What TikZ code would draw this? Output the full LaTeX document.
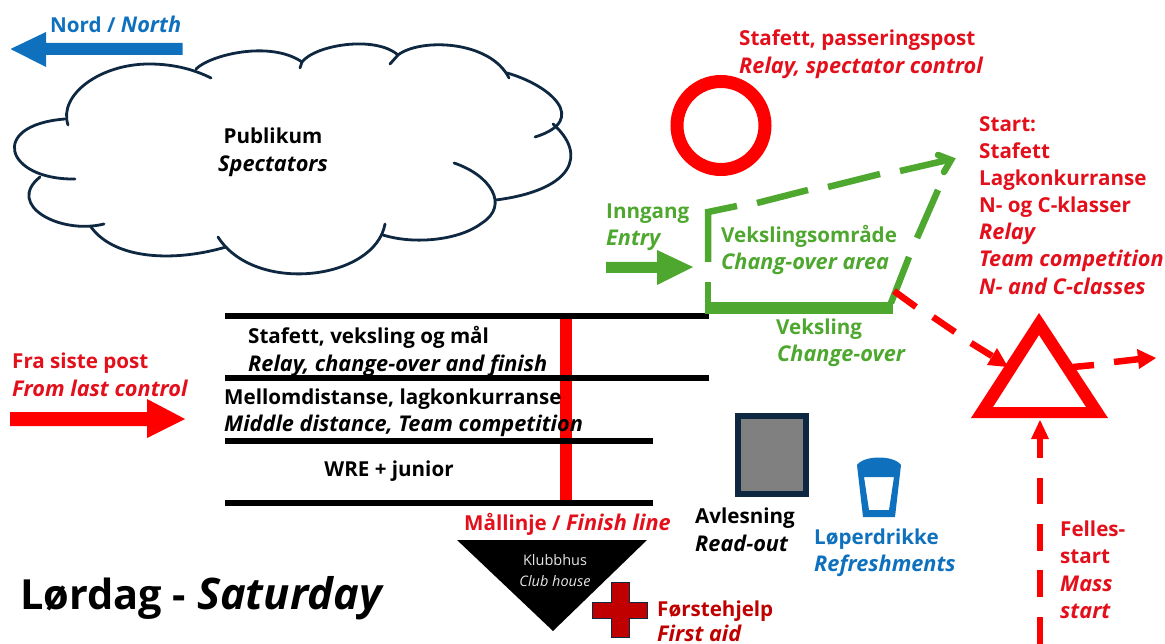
\documentclass[tikz,border=0pt]{standalone}
\usepackage{fontspec}
\setmainfont{Open Sans}
\usetikzlibrary{arrows.meta}
\definecolor{cRed}{HTML}{FF0000}
\definecolor{tRed}{HTML}{E3101C}
\definecolor{cGreen}{HTML}{4EA72E}
\definecolor{cBlue}{HTML}{0F71BE}
\definecolor{cNavy}{HTML}{0E2841}
\definecolor{cAid}{HTML}{C00000}
\newcommand{\itx}[1]{{\fontsize{21.7}{22}\selectfont\itshape #1}}
\tikzset{
 x=1pt,y=-1pt,
 lbl/.style={anchor=base west,inner sep=0pt,font=\fontsize{20.6}{22}\selectfont\bfseries},
 lblc/.style={lbl,anchor=base},
 cloudarc/.style={draw=cNavy,line width=2.8pt,line cap=round},
 track/.style={draw=black,line width=6.5pt},
 gdash/.style={draw=cGreen,line width=6.5pt},
 rdash/.style={draw=cRed,line width=6.5pt},
}
\begin{document}
\begin{tikzpicture}
\useasboundingbox (0,0) rectangle (1165,644);
% cloud
\draw[cloudarc] (68,125) .. controls (58,95) and (100,64) .. (149,64) .. controls (175,64) and (195,70) .. (211,78);
\draw[cloudarc] (196,69) .. controls (210,55) and (270,40) .. (302,62) -- (300,68);
\draw[cloudarc] (302,62) .. controls (315,45) and (375,35) .. (398,55);
\draw[cloudarc] (390,64) -- (398,55) .. controls (420,38) and (490,40) .. (509,78);
\draw[cloudarc] (507,73) .. controls (550,85) and (590,120) .. (535,137);
\draw[cloudarc] (553,124) .. controls (588,155) and (573,190) .. (496,200);
\draw[cloudarc] (454,163) .. controls (490,175) and (510,205) .. (482,223) .. controls (460,240) and (415,245) .. (383,235);
\draw[cloudarc] (385,224) .. controls (375,280) and (255,295) .. (218,237);
\draw[cloudarc] (226,247) .. controls (175,262) and (115,260) .. (91,227);
\draw[cloudarc] (104,224) .. controls (60,235) and (5,205) .. (40,177);
\draw[cloudarc] (75,179) .. controls (5,180) and (-12,125) .. (65,119);
% north arrow
\fill[cBlue] (182.5,43)--(46,43)--(46,32)--(10.5,49)--(46,67)--(46,55)--(182.5,55)--cycle;
% entry arrow
\fill[cGreen] (606,262)--(657,262)--(657,250)--(693,267)--(657,285)--(657,273)--(606,273)--cycle;
% last control arrow
\fill[cRed] (10,412)--(147,412)--(147,399)--(185,419)--(147,438)--(147,426)--(10,426)--cycle;
% tracks
\draw[cRed,line width=12pt] (566,316)--(566,503);
\coordinate (t1a) at (225,316); \coordinate (t1b) at (709,316);
\coordinate (t2a) at (225,378); \coordinate (t2b) at (709,378);
\coordinate (t3a) at (225,441); \coordinate (t3b) at (653,441);
\coordinate (t4a) at (225,503); \coordinate (t4b) at (653,503);
\draw[track] (t1a)--(t1b);
\draw[track] (t2a)--(t2b);
\draw[track] (t3a)--(t3b);
\draw[track] (t4a)--(t4b);
% circle
\draw[cRed,line width=13pt] (721,125.5) circle (44);
% change-over area
\draw[cGreen,line width=6.5pt,line join=miter] (708,262)--(708,212)--(737,206);
\draw[gdash] (757,203)--(808,190);
\draw[gdash] (828,187)--(880,174);
\draw[gdash] (900,171)--(950,159.5);
\draw[gdash,line cap=round] (944,172)--(951,160)--(938,155);
\draw[gdash] (917,238)--(938,190);
\draw[gdash] (891,303)--(909,257);
\draw[gdash] (708,282)--(708,314);
\fill[cGreen] (708,302) rectangle (892.5,314);
% start triangle
\fill[cRed,even odd rule] (1039,313)--(971,418)--(1108,418)--cycle (1039,335)--(993,407)--(1086,407)--cycle;
% red dashed arrows
\draw[rdash] (894,291)--(916,307);
\draw[rdash] (933,317)--(955,332);
\draw[rdash] (971,343)--(992,356);
\fill[cRed] (1008,367)--(987,365)--(997,348)--cycle;
\draw[rdash] (1073,367)--(1094,365);
\draw[rdash] (1114,362)--(1140,359);
\fill[cRed] (1156,358)--(1137,349)--(1139,369)--cycle;
\fill[cRed] (1040,420)--(1031,439)--(1049,439)--cycle;
\draw[rdash] (1040,438)--(1040,458);
\draw[rdash] (1040,478)--(1040,504);
\draw[rdash] (1040,524)--(1040,551);
\draw[rdash] (1040,570)--(1040,597);
\draw[rdash] (1040,617)--(1040,644);
% club house
\fill[black] (457,540)--(647,540)--(553,631)--cycle;
% first aid
\filldraw[fill=cAid,draw=cNavy,line width=1pt] (611,582)--(629,582)--(629,602)--(647,602)--(647,618)--(629,618)--(629,637)--(611,637)--(611,618)--(592,618)--(592,602)--(611,602)--cycle;
% read-out
\filldraw[fill=black!50,draw=cNavy,line width=6pt] (738,416) rectangle (806,494);
% cup
\fill[cBlue,even odd rule] (857,465) .. controls (864,455) and (894,455) .. (901,465) -- (895,517)--(863,517)--cycle (864,477)--(894,477)--(889,510)--(869,510)--cycle;
% labels
\node[lbl,text=cBlue] (north) at (50,33) {Nord / \itx{North}};
\node[lblc] (pub) at (273,144) {Publikum};
\node[lblc] (spec) at (273,172) {\itx{Spectators}};
\node[lbl,text=tRed] (pass1) at (739,46) {Stafett, passeringspost};
\node[lbl,text=tRed] (pass2) at (739,74) {\itx{Relay, spectator control}};
\node[lbl,text=tRed] (s1) at (979,132) {Start:};
\node[lbl,text=tRed] (s2) at (979,159) {Stafett};
\node[lbl,text=tRed] (s3) at (979,186) {Lagkonkurranse};
\node[lbl,text=tRed] (s4) at (979,213) {N- og C-klasser};
\node[lbl,text=tRed] (s5) at (979,240) {\itx{Relay}};
\node[lbl,text=tRed] (s6) at (979,267) {\itx{Team competition}};
\node[lbl,text=tRed] (s7) at (979,295) {\itx{N- and C-classes}};
\node[lbl,text=cGreen] (inn) at (606,219) {Inngang};
\node[lbl,text=cGreen] (ent) at (606,246) {\itx{Entry}};
\node[lbl,text=cGreen] (vo) at (721,243) {Vekslingsområde};
\node[lbl,text=cGreen] (coa) at (721,270) {\itx{Chang-over area}};
\node[lbl,text=cGreen] (vk) at (776,335) {Veksling};
\node[lbl,text=cGreen] (co) at (777,362) {\itx{Change-over}};
\node[lbl] (r1) at (248,344) {Stafett, veksling og mål};
\node[lbl] (r2) at (248,371) {\itx{Relay, change-over and finish}};
\node[lbl,text=tRed] (f1) at (12,369) {Fra siste post};
\node[lbl,text=tRed] (f2) at (12,396) {\itx{From last control}};
\node[lbl] (m1) at (224,404) {Mellomdistanse, lagkonkurranse};
\node[lbl] (m2) at (224,431) {\itx{Middle distance, Team competition}};
\node[lblc] (wre) at (389,476) {WRE + junior};
\node[lbl,text=tRed] (ml) at (464,530) {Mållinje / \itx{Finish line}};
\node[anchor=base,inner sep=0pt,text=white!90!black,font=\fontsize{14.5}{17}\selectfont] (kb) at (555,565) {Klubbhus};
\node[anchor=base,inner sep=0pt,text=white!90!black,font=\fontsize{14.5}{17}\selectfont\itshape] (ch) at (555,586) {Club house};
\node[lbl] (av) at (695,523) {Avlesning};
\node[lbl] (ro) at (695,551) {\itx{Read-out}};
\node[lbl,text=cBlue] (ld) at (814,544) {Løperdrikke};
\node[lbl,text=cBlue] (rf) at (814,571) {\itx{Refreshments}};
\node[lbl,text=cAid] (fh) at (657,616) {Førstehjelp};
\node[lbl,text=cAid] (fa) at (657,641) {\itx{First aid}};
\node[lbl,text=tRed] (fs1) at (1060,536) {Felles-};
\node[lbl,text=tRed] (fs2) at (1060,563) {start};
\node[lbl,text=tRed] (fs3) at (1060,591) {\itx{Mass}};
\node[lbl,text=tRed] (fs4) at (1060,618) {\itx{start}};
\node[lbl,font=\fontsize{41.5}{44}\selectfont\bfseries] (sat) at (20,609) {Lørdag - {\fontsize{43.5}{44}\selectfont\itshape Saturday}};
\end{tikzpicture}
\end{document}
